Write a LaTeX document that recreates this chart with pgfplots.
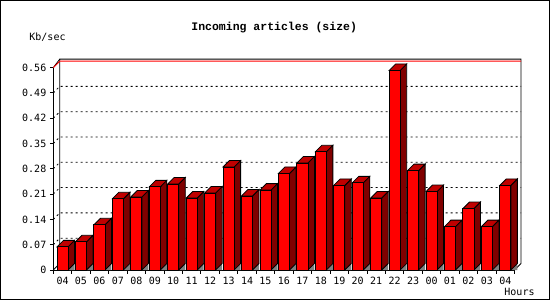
\documentclass[border=0pt]{standalone}
\usepackage{pgfplots}
\pgfplotsset{compat=1.18}
\usepackage{pgfplotstable}
\usepackage{fontspec}
\setmainfont{DejaVu Sans Mono}
\newfontfamily\titlefont{Liberation Mono}
\definecolor{barred}{HTML}{FF0000}
\definecolor{sidered}{HTML}{800000}
\definecolor{topred}{HTML}{C00000}
\definecolor{shadowgray}{HTML}{808080}

\pgfplotstableread{
x v
0 0.064
1 0.078
2 0.125
3 0.197
4 0.202
5 0.230
6 0.238
7 0.199
8 0.213
9 0.285
10 0.205
11 0.221
12 0.267
13 0.296
14 0.327
15 0.234
16 0.241
17 0.199
18 0.552
19 0.275
20 0.217
21 0.120
22 0.170
23 0.120
24 0.234
}\data

\newcommand\dx{0.352}
\newcommand\dy{0.018}
\newcommand\hw{0.3}

\newcommand\threedbar[1]{%
 \pgfplotstablegetelem{#1}{v}\of\data
 \let\vv\pgfplotsretval
 \pgfmathsetmacro\xl{#1-\hw}%
 \pgfmathsetmacro\xr{#1+\hw}%
 \pgfmathsetmacro\xlb{#1-\hw+\dx}%
 \pgfmathsetmacro\xrb{#1+\hw+\dx}%
 \pgfmathsetmacro\vb{\vv+\dy}%
 \edef\tmp{%
  \noexpand\addplot[fill=shadowgray,draw=none] coordinates {(\xr,0) (\xrb,0) (\xrb,\dy)} -- cycle;%
  \noexpand\addplot[fill=sidered,draw=black] coordinates {(\xr,0) (\xrb,\dy) (\xrb,\vb) (\xr,\vv)} -- cycle;%
  \noexpand\addplot[fill=topred,draw=black] coordinates {(\xl,\vv) (\xlb,\vb) (\xrb,\vb) (\xr,\vv)} -- cycle;%
  \noexpand\addplot[fill=barred,draw=black] coordinates {(\xl,0) (\xl,\vv) (\xr,\vv) (\xr,0)} -- cycle;%
 }\tmp
}

\newcommand\gridline[1]{%
 \pgfmathsetmacro\gy{#1*0.07}%
 \pgfmathsetmacro\gyb{#1*0.07+\dy}%
 \edef\tmp{%
  \noexpand\addplot[black, line width=0.8bp, dash pattern=on 2bp off 3bp] coordinates {(-0.5,\gy) (-0.148,\gyb) (24.852,\gyb)};%
 }\tmp
}

\begin{document}
\begin{tikzpicture}
\begin{axis}[
  x=18.45bp, y=361.4bp,
  xmin=-0.5, xmax=24.5, ymin=0, ymax=0.56,
  clip=false,
  axis x line=bottom, axis y line=left,
  axis line style={-, line width=0.9bp, black},
  xtick={-0.5,0.5,1.5,2.5,3.5,4.5,5.5,6.5,7.5,8.5,9.5,10.5,11.5,12.5,13.5,14.5,15.5,16.5,17.5,18.5,19.5,20.5,21.5,22.5,23.5,24.5},
  xticklabels={04,05,06,07,08,09,10,11,12,13,14,15,16,17,18,19,20,21,22,23,00,01,02,03,04},
  x tick label as interval,
  ytick={0,0.07,0.14,0.21,0.28,0.35,0.42,0.49,0.56},
  yticklabels={0,0.07,0.14,0.21,0.28,0.35,0.42,0.49,0.56},
  tick align=outside,
  major tick length=3.5bp,
  tick style={black, line width=0.9bp},
  ticklabel style={font=\fontsize{10bp}{12bp}\selectfont},
  every axis plot/.append style={line width=0.8bp},
]
\coordinate (O) at (axis cs:-0.5,0);
% back wall frame
\addplot[black] coordinates {(-0.5,0) (-0.148,0.018) (-0.148,0.5835) (24.852,0.5835) (24.852,0.018) (24.5,0)};
\addplot[black] coordinates {(-0.5,0.56) (-0.148,0.5835)};
\pgfplotsinvokeforeach{1,...,7}{\gridline{#1}}
\addplot[red, line width=0.9bp] coordinates {(-0.5,0.56) (-0.148,0.578) (24.852,0.578)};
% bars
\pgfplotsinvokeforeach{0,...,24}{\threedbar{#1}}
\end{axis}
\node[anchor=base, inner sep=0, font={\fontsize{11.5bp}{13bp}\titlefont\bfseries}] at ([shift={(220.9bp,239.5bp)}]O) {Incoming articles (size)};
\node[anchor=base, inner sep=0, font={\fontsize{10bp}{12bp}\selectfont}] at ([shift={(-5.8bp,229.5bp)}]O) {Kb/sec};
\node[anchor=base, inner sep=0, font={\fontsize{10bp}{12bp}\selectfont}] at ([shift={(466.2bp,-25bp)}]O) {Hours};
\pgfresetboundingbox
\path[use as bounding box] ([shift={(-53.3bp,-30bp)}]O) rectangle ([shift={(496.7bp,270bp)}]O);
\draw[line width=1.5bp] ([shift={(-52.55bp,-29.25bp)}]O) rectangle ([shift={(495.95bp,269.25bp)}]O);
\end{tikzpicture}
\end{document}
